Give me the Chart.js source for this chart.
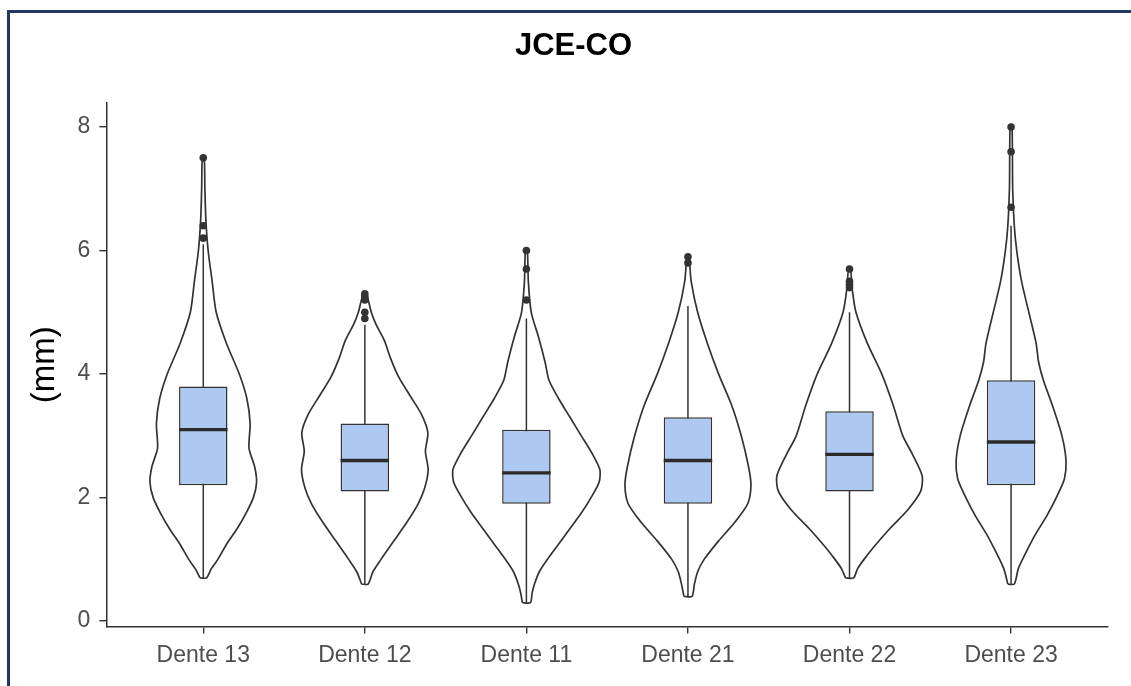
<!DOCTYPE html>
<html>
<head>
<meta charset="utf-8">
<title>JCE-CO</title>
<script src="https://cdn.jsdelivr.net/npm/chart.js@4.4.1/dist/chart.umd.min.js"></script>
<style>
  html, body { margin: 0; padding: 0; background: #ffffff; }
  #wrap { position: relative; width: 1131px; height: 686px; overflow: hidden; }
  #c { position: absolute; left: 0; top: 0; }
  #frame {
    position: absolute; left: 7px; top: 10px; width: 1300px; height: 900px;
    border-left: 3px solid #1f3864; border-top: 3px solid #1f3864;
    pointer-events: none;
  }
</style>
</head>
<body>
<div id="wrap">
  <canvas id="c" width="1131" height="686"></canvas>
  <div id="frame"></div>
</div>
<script>
// Teeth measured (one violin + boxplot each)
const categories = ['Dente 13', 'Dente 12', 'Dente 11', 'Dente 21', 'Dente 22', 'Dente 23'];
const yTicks = [0, 2, 4, 6, 8];

// Boxplot statistics (mm)
const whiskerLow  = [0.7, 0.6, 0.3, 0.4, 0.7, 0.6];
const q1          = [2.2, 2.1, 1.9, 1.9, 2.1, 2.2];
const median      = [3.1, 2.6, 2.4, 2.6, 2.7, 2.9];
const q3          = [3.8, 3.2, 3.1, 3.3, 3.4, 3.9];
const whiskerHigh = [6.1, 4.8, 4.9, 5.1, 5.0, 6.4];
const outliers = [
  [7.5, 6.4, 6.2],
  [5.3, 5.25, 5.2, 5.0, 4.9],
  [6.0, 5.7, 5.2],
  [5.9, 5.8],
  [5.7, 5.5, 5.45, 5.4],
  [8.0, 7.6, 6.7]
];

// Violin profiles: [value (mm), half width (in category units)], bottom to top
const violinDente13 = [[0.7,0.02],[0.85,0.05],[1.0,0.09],[1.25,0.145],[1.5,0.21],[1.75,0.265],[2.0,0.31],
  [2.25,0.33],[2.5,0.318],[2.8,0.283],[3.2,0.29],[3.6,0.27],[4.0,0.223],[4.5,0.143],[5.0,0.08],[5.5,0.055],
  [6.0,0.03],[6.5,0.016],[7.0,0.01],[7.5,0.006]];
const violinDente12 = [[0.6,0.02],[0.8,0.05],[1.0,0.1],[1.3,0.18],[1.6,0.26],[1.9,0.33],[2.15,0.37],[2.45,0.392],
  [2.75,0.375],[3.05,0.39],[3.35,0.35],[3.65,0.28],[3.95,0.21],[4.25,0.16],[4.55,0.12],[4.8,0.07],[5.0,0.04],
  [5.3,0.01]];
const violinDente11 = [[0.3,0.025],[0.45,0.035],[0.6,0.05],[0.8,0.08],[1.0,0.13],[1.25,0.2],[1.5,0.27],[1.75,0.34],
  [2.0,0.4],[2.25,0.45],[2.45,0.455],[2.7,0.41],[3.0,0.34],[3.3,0.27],[3.6,0.2],[3.9,0.14],[4.2,0.115],
  [4.6,0.075],[5.0,0.03],[5.5,0.012],[6.0,0.006]];
const violinDente21 = [[0.4,0.025],[0.6,0.04],[0.8,0.06],[1.0,0.1],[1.3,0.19],[1.6,0.29],[1.9,0.37],[2.2,0.39],
  [2.5,0.375],[3.0,0.33],[3.5,0.27],[4.0,0.19],[4.5,0.12],[5.0,0.06],[5.5,0.02],[5.9,0.006]];
const violinDente22 = [[0.7,0.025],[0.85,0.05],[1.0,0.09],[1.2,0.15],[1.5,0.25],[1.8,0.36],[2.1,0.44],[2.35,0.45],
  [2.7,0.39],[3.0,0.33],[3.5,0.27],[4.0,0.2],[4.5,0.11],[5.0,0.04],[5.35,0.018],[5.7,0.006]];
const violinDente23 = [[0.6,0.02],[0.85,0.045],[1.1,0.09],[1.4,0.15],[1.7,0.22],[2.0,0.28],[2.3,0.33],[2.6,0.34],
  [3.0,0.315],[3.5,0.255],[3.9,0.2],[4.2,0.17],[4.5,0.155],[5.0,0.11],[5.5,0.065],[6.0,0.035],[6.4,0.02],
  [7.0,0.01],[8.0,0.006]];
const violins = [violinDente13, violinDente12, violinDente11, violinDente21, violinDente22, violinDente23];

const FONT = '"Liberation Sans", Arial, Helvetica, sans-serif';
const INK = '#333333';
const BOX_FILL = '#aec9f1';
const BOX_HALF = 0.15;

Chart.defaults.font.family = FONT;

// Closed outline: left side going up, right side coming back down
function violinOutline(i, profile) {
  const left = profile.map(([v, w]) => ({ x: i - w, y: v }));
  const right = profile.slice().reverse().map(([v, w]) => ({ x: i + w, y: v }));
  return left.concat(right, [left[0]]);
}

const datasets = [];

categories.forEach((c, i) => {
  datasets.push({
    type: 'line', label: c + ' violin', data: violinOutline(i, violins[i]),
    borderColor: INK, borderWidth: 1.7, borderJoinStyle: 'round',
    pointRadius: 0, fill: false, tension: 0.25, order: 5
  });
  datasets.push({
    type: 'line', label: c + ' whisker',
    data: [{ x: i, y: whiskerLow[i] }, { x: i, y: whiskerHigh[i] }],
    borderColor: INK, borderWidth: 1.5, pointRadius: 0, fill: false, tension: 0, order: 4
  });
  datasets.push({
    type: 'line', label: c + ' median',
    data: [{ x: i - BOX_HALF, y: median[i] }, { x: i + BOX_HALF, y: median[i] }],
    borderColor: '#2b2b2b', borderWidth: 3.4, borderCapStyle: 'butt',
    pointRadius: 0, fill: false, tension: 0, order: 2
  });
});

datasets.push({
  type: 'bar', label: 'IQR',
  data: categories.map((c, i) => ({ x: i, y: [q1[i], q3[i]] })),
  backgroundColor: BOX_FILL, borderColor: INK, borderWidth: 1.5, borderSkipped: false,
  barPercentage: BOX_HALF * 2, categoryPercentage: 1, order: 3
});

datasets.push({
  type: 'scatter', label: 'outliers',
  data: outliers.flatMap((vals, i) => vals.map(v => ({ x: i, y: v }))),
  backgroundColor: INK, borderColor: INK, borderWidth: 0, pointRadius: 3.8, order: 1
});

const axisGrid = {
  display: true, drawOnChartArea: false, drawTicks: true,
  tickLength: 7, color: INK, lineWidth: 1.4, offset: false
};
const axisBorder = { display: true, color: INK, width: 1.5 };
const tickFont = { family: FONT, size: 23 };

new Chart(document.getElementById('c'), {
  type: 'line',
  data: { datasets },
  options: {
    responsive: false,
    animation: false,
    devicePixelRatio: 1,
    layout: { padding: { left: 39, right: 23, top: 10, bottom: 9 } },
    plugins: {
      legend: { display: false },
      tooltip: { enabled: false },
      title: {
        display: true, text: 'JCE-CO', color: '#000000',
        font: { family: FONT, size: 31, weight: 'bold' },
        padding: { top: 18, bottom: 38 }
      }
    },
    scales: {
      x: {
        type: 'linear', min: -0.6, max: 5.6, offset: false,
        afterBuildTicks: axis => { axis.ticks = categories.map((c, i) => ({ value: i })); },
        ticks: {
          callback: v => categories[v], color: '#4d4d4d', font: tickFont,
          padding: 8, autoSkip: false, maxRotation: 0, minRotation: 0
        },
        grid: axisGrid, border: axisBorder
      },
      y: {
        type: 'linear', min: -0.085, max: 8.385,
        afterBuildTicks: axis => { axis.ticks = yTicks.map(v => ({ value: v })); },
        ticks: { callback: v => String(v), color: '#4d4d4d', font: tickFont, padding: 9 },
        grid: axisGrid, border: axisBorder,
        title: {
          display: true, text: '(mm)', color: '#000000',
          font: { family: FONT, size: 33, lineHeight: 0.35 },
          padding: { top: 0, bottom: 18 }
        }
      }
    }
  }
});
</script>
</body>
</html>
